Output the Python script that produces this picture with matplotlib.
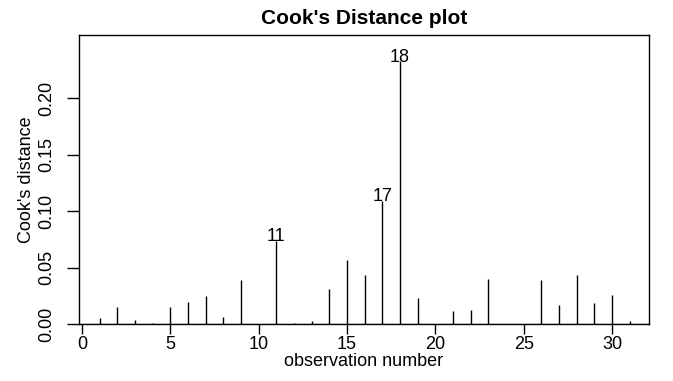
import numpy as np
import matplotlib.pyplot as plt

plt.rcParams['font.family'] = ['Liberation Sans', 'DejaVu Sans']

obs = np.arange(1, 32)
cooks_d = [0.0053, 0.0147, 0.0032, 0.0005, 0.0153, 0.0195, 0.0250, 0.0059,
           0.0386, 0.0003, 0.0737, 0.0005, 0.0024, 0.0313, 0.0570, 0.0430,
           0.1090, 0.2326, 0.0230, 0.0003, 0.0115, 0.0121, 0.0400, 0.0002,
           0.0002, 0.0386, 0.0171, 0.0430, 0.0183, 0.0254, 0.0024]
labelled = [11, 17, 18]
x_ticks = [0, 5, 10, 15, 20, 25, 30]
y_ticks = [0.00, 0.05, 0.10, 0.15, 0.20]

fig = plt.figure(figsize=(6.73, 3.81), dpi=100)
W, H = 673, 381
ax = fig.add_axes([79 / W, 1 - 324 / H, 570 / W, 289 / H])

ax.axhline(0, color='#808080', lw=1, zorder=1)
ax.vlines(obs, 0, cooks_d, color='black', lw=1, zorder=2)

for i in labelled:
    ax.annotate(str(i), (i, cooks_d[i - 1]), xytext=(0, 3),
                textcoords='offset points', ha='center', va='center',
                fontsize=13)

ax.set_xlim(-0.17, 32.09)
ax.set_ylim(0, 0.2558)
ax.set_xticks(x_ticks)
ax.set_yticks(y_ticks)
ax.set_yticklabels([f'{v:.2f}' for v in y_ticks], rotation=90, va='center')
ax.tick_params(axis='x', direction='out', length=7.5, width=1, pad=1, labelsize=13)
ax.tick_params(axis='y', direction='out', length=8.5, width=1, pad=8.5, labelsize=13)
for s in ax.spines.values():
    s.set_linewidth(1)

ax.set_xlabel('observation number', fontsize=13)
ax.xaxis.set_label_coords(0.5, -0.10)
ax.xaxis.label.set_va('top')
ax.set_ylabel("Cook's distance", fontsize=13)
ax.yaxis.set_label_coords(-0.078, 0.5)

fig.text(364 / W, 1 - 24 / H, "Cook's Distance plot", ha='center',
         va='baseline', fontsize=15, fontweight='bold')

fig.savefig('out.png', dpi=100)
